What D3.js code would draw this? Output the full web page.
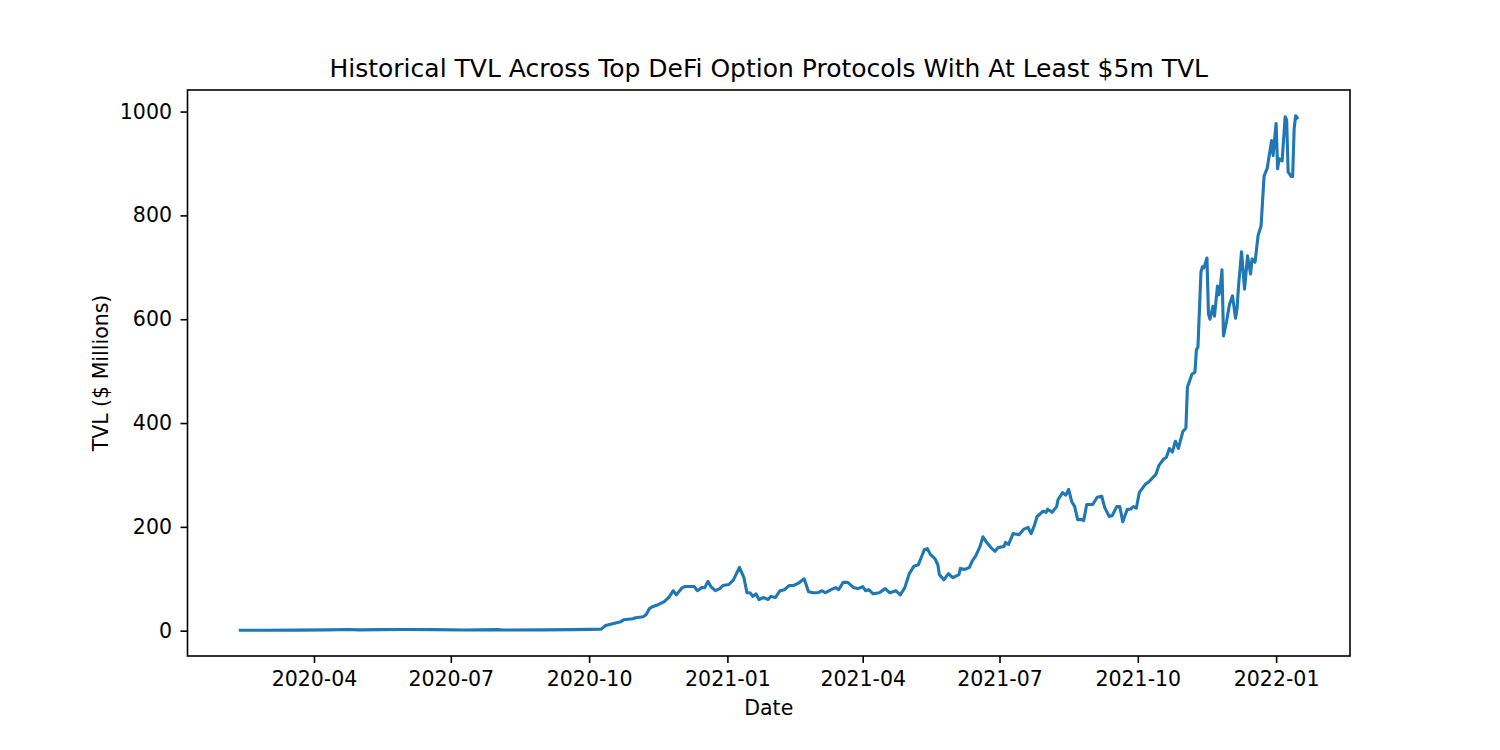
<!DOCTYPE html>
<meta charset="utf-8">
<title>Historical TVL</title>
<body>
<script src="https://cdn.jsdelivr.net/npm/d3@7"></script>
<style>
html, body {
    margin: 0;
    background: #fff;
}
svg text {
    font-family: "DejaVu Sans", sans-serif;
    fill: #000;
}
</style>
<script>
// TVL readings ($ millions)
var dates = [
    "2020-02-12","2020-03-01","2020-03-20","2020-04-10","2020-04-24","2020-05-01","2020-05-15","2020-06-01",
    "2020-06-20","2020-07-10","2020-08-01","2020-08-05","2020-09-01","2020-09-20","2020-10-01","2020-10-09",
    "2020-10-12","2020-10-16","2020-10-22","2020-10-24","2020-10-30","2020-11-01","2020-11-06","2020-11-08",
    "2020-11-10","2020-11-12","2020-11-16","2020-11-20","2020-11-23","2020-11-26","2020-11-28","2020-12-02",
    "2020-12-04","2020-12-08","2020-12-10","2020-12-12","2020-12-15","2020-12-17","2020-12-19","2020-12-21",
    "2020-12-24","2020-12-27","2020-12-29","2021-01-02","2021-01-05","2021-01-09","2021-01-12","2021-01-14",
    "2021-01-16","2021-01-18","2021-01-20","2021-01-22","2021-01-25","2021-01-28","2021-01-30","2021-02-02",
    "2021-02-05","2021-02-08","2021-02-11","2021-02-14","2021-02-17","2021-02-21","2021-02-24","2021-02-27",
    "2021-03-02","2021-03-05","2021-03-07","2021-03-11","2021-03-14","2021-03-16","2021-03-19","2021-03-22",
    "2021-03-26","2021-03-29","2021-04-01","2021-04-03","2021-04-05","2021-04-08","2021-04-12","2021-04-16",
    "2021-04-19","2021-04-23","2021-04-26","2021-04-29","2021-05-02","2021-05-05","2021-05-08","2021-05-12",
    "2021-05-14","2021-05-16","2021-05-19","2021-05-21","2021-05-22","2021-05-25","2021-05-28","2021-05-31",
    "2021-06-04","2021-06-05","2021-06-08","2021-06-11","2021-06-13","2021-06-15","2021-06-18","2021-06-20",
    "2021-06-22","2021-06-26","2021-06-28","2021-06-30","2021-07-04","2021-07-05","2021-07-07","2021-07-10",
    "2021-07-14","2021-07-17","2021-07-20","2021-07-22","2021-07-24","2021-07-26","2021-07-30","2021-08-01",
    "2021-08-02","2021-08-05","2021-08-08","2021-08-09","2021-08-12","2021-08-14","2021-08-16","2021-08-18",
    "2021-08-20","2021-08-22","2021-08-25","2021-08-26","2021-08-28","2021-09-01","2021-09-04","2021-09-07",
    "2021-09-09","2021-09-12","2021-09-14","2021-09-17","2021-09-19","2021-09-21","2021-09-24","2021-09-26",
    "2021-09-28","2021-09-30","2021-10-02","2021-10-06","2021-10-08","2021-10-10","2021-10-13","2021-10-15",
    "2021-10-18","2021-10-20","2021-10-22","2021-10-24","2021-10-26","2021-10-28","2021-10-31","2021-11-02",
    "2021-11-03","2021-11-06","2021-11-08","2021-11-09","2021-11-10","2021-11-12","2021-11-13","2021-11-14",
    "2021-11-16","2021-11-17","2021-11-18","2021-11-20","2021-11-21","2021-11-23","2021-11-24","2021-11-25",
    "2021-11-26","2021-11-27","2021-11-29","2021-12-01","2021-12-03","2021-12-05","2021-12-06","2021-12-07",
    "2021-12-09","2021-12-11","2021-12-13","2021-12-15","2021-12-16","2021-12-18","2021-12-20","2021-12-22",
    "2021-12-24","2021-12-26","2021-12-29","2021-12-30","2022-01-01","2022-01-02","2022-01-03","2022-01-05",
    "2022-01-07","2022-01-08","2022-01-09","2022-01-11","2022-01-12","2022-01-13","2022-01-14","2022-01-15"
];

var tvl = [
    0.8, 0.9, 1.0, 1.6, 2.4, 1.6, 2.0, 2.2,
    2.0, 1.4, 2.0, 1.4, 1.5, 2.0, 2.5, 3.0,
    10, 13, 17, 21, 23, 25, 27, 31,
    42, 46, 50, 56, 64, 77, 69, 83,
    85, 85, 85, 77, 83, 83, 95, 85,
    77, 81, 87, 89, 98, 122, 102, 73,
    73, 66, 71, 60, 64, 60, 66, 64,
    77, 79, 87, 87, 91, 100, 75, 73,
    73, 77, 73, 79, 83, 79, 93, 93,
    83, 81, 85, 77, 79, 71, 73, 81,
    73, 77, 69, 83, 110, 124, 127, 156,
    158, 147, 139, 127, 108, 98, 110, 102,
    108, 120, 118, 122, 135, 143, 162, 181,
    172, 158, 153, 160, 162, 170, 166, 187,
    185, 195, 199, 187, 201, 220, 230, 228,
    234, 228, 239, 253, 266, 261, 272, 249,
    239, 214, 214, 212, 243, 243, 257, 259,
    237, 220, 222, 239, 239, 210, 234, 234,
    239, 236, 266, 282, 286, 292, 301, 318,
    330, 334, 351, 344, 365, 351, 384, 390,
    469, 494, 498, 542, 546, 691, 701, 699,
    718, 610, 600, 625, 606, 664, 647, 664,
    695, 568, 595, 629, 645, 602, 620, 664,
    730, 658, 722, 687, 716, 710, 761, 780,
    876, 890, 944, 915, 977, 890, 909, 905,
    990, 984, 884, 875, 875, 967, 992, 988
];

var yTicks = [0, 200, 400, 600, 800, 1000];

var titleText = "Historical TVL Across Top DeFi Option Protocols With At Least $5m TVL",
    xLabel = "Date",
    yLabel = "TVL ($ Millions)";

var width = 1500,
    height = 750,
    margin = {left: 187.5, right: 150, top: 90, bottom: 94};

var parse = d3.timeParse("%Y-%m-%d");
var data = dates.map(function(d, i) { return {date: parse(d), value: tvl[i]}; });

var svg = d3.select("body").append("svg")
    .attr("width", width)
    .attr("height", height);

// matplotlib style 5% padding on both axes
var xExt = d3.extent(data, function(d) { return +d.date; }),
    xPad = (xExt[1] - xExt[0]) * 0.05,
    yExt = d3.extent(data, function(d) { return d.value; }),
    yPad = (yExt[1] - yExt[0]) * 0.05;

var x = d3.scaleTime()
    .domain([new Date(xExt[0] - xPad), new Date(xExt[1] + xPad)])
    .range([margin.left, width - margin.right]);

var y = d3.scaleLinear()
    .domain([yExt[0] - yPad, yExt[1] + yPad])
    .range([height - margin.bottom, margin.top]);

var xTicks = d3.timeMonth.range(parse("2020-04-01"), parse("2022-02-01"), 3);

var xAxis = svg.append("g")
    .attr("transform", "translate(0," + (height - margin.bottom) + ")")
    .call(d3.axisBottom(x).tickValues(xTicks).tickFormat(d3.timeFormat("%Y-%m")).tickSize(7).tickPadding(8));

var yAxis = svg.append("g")
    .attr("transform", "translate(" + margin.left + ",0)")
    .call(d3.axisLeft(y).tickValues(yTicks).tickFormat(d3.format("d")).tickSize(7).tickPadding(8.5));

[xAxis, yAxis].forEach(function(a) {
    a.select(".domain").remove();
    a.selectAll(".tick line").attr("stroke", "#000").attr("stroke-width", 1.6);
    a.selectAll(".tick text")
        .attr("fill", "#000")
        .style("font-size", "20.5px")
        .style("font-family", "'DejaVu Sans', sans-serif");
});

svg.append("path")
    .datum(data)
    .attr("fill", "none")
    .attr("stroke", "#1f77b4")
    .attr("stroke-width", 3.1)
    .attr("stroke-linejoin", "round")
    .attr("stroke-linecap", "square")
    .attr("d", d3.line()
        .x(function(d) { return x(d.date); })
        .y(function(d) { return y(d.value); }));

svg.append("rect")
    .attr("x", margin.left)
    .attr("y", margin.top)
    .attr("width", width - margin.left - margin.right)
    .attr("height", height - margin.top - margin.bottom)
    .attr("fill", "none")
    .attr("stroke", "#000")
    .attr("stroke-width", 1.6);

svg.append("text")
    .attr("x", (margin.left + width - margin.right) / 2)
    .attr("y", 77)
    .attr("text-anchor", "middle")
    .style("font-size", "25px")
    .text(titleText);

svg.append("text")
    .attr("x", (margin.left + width - margin.right) / 2)
    .attr("y", 715)
    .attr("text-anchor", "middle")
    .style("font-size", "20.5px")
    .text(xLabel);

svg.append("text")
    .attr("transform", "translate(108," + (margin.top + height - margin.bottom) / 2 + ") rotate(-90)")
    .attr("text-anchor", "middle")
    .style("font-size", "20.5px")
    .text(yLabel);
</script>
